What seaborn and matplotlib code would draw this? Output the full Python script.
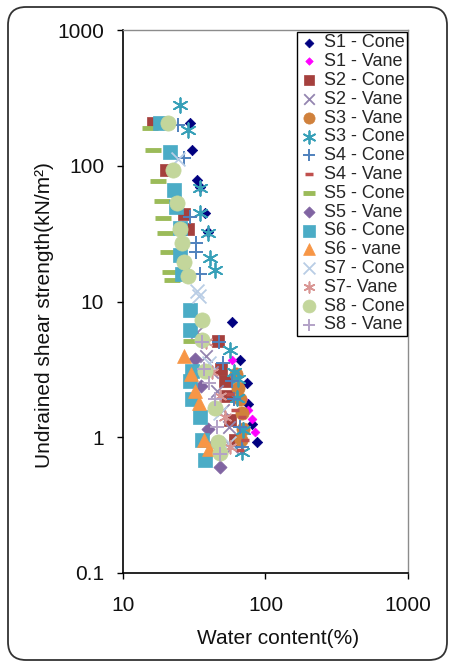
import numpy as np
import pandas as pd
import matplotlib
matplotlib.use("Agg")
import matplotlib.pyplot as plt
import seaborn as sns
from matplotlib.patches import FancyBboxPatch
from matplotlib.transforms import IdentityTransform
from matplotlib.ticker import FixedLocator, FixedFormatter, NullLocator

# ---------------- data (water content %, undrained shear strength kN/m2) ----------------
s1_cone_w = [29.5, 30.4, 33, 34.6, 37.5, 39.4, 58, 66, 74, 75, 80, 87]
s1_cone_su = [205, 131, 78, 70, 45, 32.5, 7.1, 3.7, 2.5, 1.75, 1.25, 0.92]

s1_vane_w = [58, 69, 75, 81, 85]
s1_vane_su = [3.7, 1.9, 1.6, 1.37, 1.1]

s2_cone_w = [16.3, 20, 27, 28.5, 46.6, 49, 52, 54, 56, 61]
s2_cone_su = [206, 93, 44, 34, 5.1, 3.2, 2.6, 2.0, 1.34, 0.95]

s2_vane_w = [33, 38, 42, 46, 50, 55, 58]
s2_vane_su = [6.0, 4.0, 3.0, 2.2, 1.6, 1.2, 0.85]

s3_vane_w = [62, 64, 66, 68, 70, 67]
s3_vane_su = [2.9, 2.3, 1.9, 1.5, 1.15, 0.95]

s3_cone_w = [25, 28.5, 34.7, 34.7, 39.4, 40.7, 44, 56, 60, 64, 63, 69, 68]
s3_cone_su = [280, 183, 69, 45, 32, 21, 17, 4.4, 3.0, 2.7, 1.95, 1.13, 0.78]

s4_cone_w = [24.5, 27, 29.5, 32.5, 32.5, 34.7, 47, 50, 58, 60, 66, 68]
s4_cone_su = [200, 115, 42, 27, 23, 16, 5.0, 3.5, 2.6, 1.9, 1.2, 0.85]

s4_vane_w = [56, 61, 68, 72, 66]
s4_vane_su = [2.1, 1.6, 1.4, 0.95, 0.8]

s5_cone_w = [15.5, 16.3, 17.6, 18.9, 19.1, 19.7, 20.7, 21.3, 22, 30]
s5_cone_su = [190, 131, 77, 55, 41, 32, 23, 16.5, 14.4, 5.1]

s5_vane_w = [32, 35, 39.5, 44, 48]
s5_vane_su = [3.8, 2.4, 1.15, 0.9, 0.6]

s6_cone_w = [18.2, 21.3, 22.8, 23.5, 25, 25, 25.8, 29.5, 29.5, 29.5, 30.5, 30.5, 34.7, 36, 37.6]
s6_cone_su = [206, 127, 66, 50, 35, 22, 16, 8.6, 6.2, 2.6, 3.1, 1.9, 1.4, 0.95, 0.68]

s6_vane_w = [27, 30, 32, 34, 37, 40]
s6_vane_su = [4.0, 2.9, 2.2, 1.8, 0.95, 0.82]

s7_cone_w = [24.5, 33, 34, 40, 48, 55]
s7_cone_su = [112, 12, 11, 3.5, 1.5, 0.9]

s7_vane_w = [38, 42, 48, 52, 56]
s7_vane_su = [5.0, 3.0, 2.0, 1.4, 0.85]

s8_cone_w = [20.7, 22.4, 24, 25, 26, 27, 28.5, 36, 36, 37.6, 44, 46.5, 48]
s8_cone_su = [205, 93, 53, 34, 27, 19.5, 15.5, 7.3, 5.2, 3.1, 1.65, 0.92, 0.77]

s8_vane_w = [36, 37, 40, 44, 46, 48]
s8_vane_su = [5.0, 3.2, 2.5, 1.9, 1.2, 0.75]

series_labels = ["S1 - Cone", "S1 - Vane", "S2 - Cone", "S2 - Vane", "S3 - Vane",
                 "S3 - Cone", "S4 - Cone", "S4 - Vane", "S5 - Cone", "S5 - Vane",
                 "S6 - Cone", "S6 - vane", "S7 - Cone", "S7- Vane", "S8 - Cone",
                 "S8 - Vane"]
series_w = [s1_cone_w, s1_vane_w, s2_cone_w, s2_vane_w, s3_vane_w, s3_cone_w,
            s4_cone_w, s4_vane_w, s5_cone_w, s5_vane_w, s6_cone_w, s6_vane_w,
            s7_cone_w, s7_vane_w, s8_cone_w, s8_vane_w]
series_su = [s1_cone_su, s1_vane_su, s2_cone_su, s2_vane_su, s3_vane_su, s3_cone_su,
             s4_cone_su, s4_vane_su, s5_cone_su, s5_vane_su, s6_cone_su, s6_vane_su,
             s7_cone_su, s7_vane_su, s8_cone_su, s8_vane_su]

x_ticks = [10, 100, 1000]
x_tick_labels = ["10", "100", "1000"]
y_ticks = [0.1, 1, 10, 100, 1000]
y_tick_labels = ["0.1", "1", "10", "100", "1000"]

# ---------------- styles ----------------
asterisk = (6, 2, 0)
styles = [
    dict(marker="D", color="#000080", s=28, lw=0.5, filled=True),
    dict(marker="D", color="#FF00FF", s=20, lw=0.5, filled=True),
    dict(marker="s", color="#A5403D", s=80, lw=0.5, filled=True),
    dict(marker="x", color="#9485B0", s=80, lw=1.3, filled=False),
    dict(marker="o", color="#D0813C", s=90, lw=0.5, filled=True),
    dict(marker=asterisk, color="#37A0B8", s=110, lw=1.3, filled=False),
    dict(marker="+", color="#4F81BD", s=90, lw=1.4, filled=False),
    dict(marker="_", color="#C0504D", s=40, lw=2.5, filled=False),
    dict(marker="_", color="#9BBB59", s=120, lw=3.5, filled=False),
    dict(marker="D", color="#8064A2", s=45, lw=0.5, filled=True),
    dict(marker="s", color="#4BACC6", s=110, lw=0.5, filled=True),
    dict(marker="^", color="#F79646", s=100, lw=0.5, filled=True),
    dict(marker="x", color="#B9CDE5", s=100, lw=1.3, filled=False),
    dict(marker=asterisk, color="#D99694", s=80, lw=1.2, filled=False),
    dict(marker="o", color="#C3D69B", s=120, lw=0.5, filled=True),
    dict(marker="+", color="#B3A2C7", s=100, lw=1.4, filled=False),
]

sns.set_theme(style="white")
plt.rcParams["font.family"] = ["Liberation Sans", "DejaVu Sans"]

fig = plt.figure(figsize=(4.55, 6.65), dpi=100)
fig.patch.set_facecolor("white")
ax = fig.add_axes([123 / 455, 92 / 665, 285 / 455, 543 / 665])

for lab, w, su, st in zip(series_labels, series_w, series_su, styles):
    df = pd.DataFrame({"w": w, "su": su})
    kw = dict(marker=st["marker"], s=st["s"], linewidth=st["lw"], alpha=1.0)
    if st["filled"]:
        kw["edgecolor"] = st["color"]
    sns.scatterplot(data=df, x="w", y="su", color=st["color"], ax=ax,
                    label=lab, legend=False, zorder=3, **kw)

ax.set_xscale("log")
ax.set_yscale("log")
ax.set_xlim(10, 1000)
ax.set_ylim(0.1, 1000)
ax.xaxis.set_major_locator(FixedLocator(x_ticks))
ax.xaxis.set_major_formatter(FixedFormatter(x_tick_labels))
ax.yaxis.set_major_locator(FixedLocator(y_ticks))
ax.yaxis.set_major_formatter(FixedFormatter(y_tick_labels))
ax.xaxis.set_minor_locator(NullLocator())
ax.yaxis.set_minor_locator(NullLocator())
ax.tick_params(axis="both", which="major", direction="out", length=4.5, width=1.0,
               color="black", labelsize=15, labelcolor="#111111", pad=9,
               bottom=True, left=True, top=False, right=False)
ax.tick_params(axis="x", pad=12)

for side in ["left", "bottom"]:
    ax.spines[side].set_color("black")
    ax.spines[side].set_linewidth(1.2)
for side in ["top", "right"]:
    ax.spines[side].set_color("#8C8C8C")
    ax.spines[side].set_linewidth(1.0)
ax.set_facecolor("white")
ax.grid(False)

ax.set_xlabel("Water content(%)", fontsize=15, color="#111111")
ax.set_ylabel("Undrained shear strength(kN/m²)", fontsize=15, color="#111111")
ax.xaxis.set_label_coords((278 - 123) / 285, (573 - 638) / 543)
ax.xaxis.label.set_va("center")
ax.yaxis.set_label_coords((45 - 123) / 285, (573 - 315) / 543)
ax.yaxis.label.set_va("center")

leg = ax.legend(loc="upper right", bbox_to_anchor=(0.997, 0.997), borderaxespad=0,
                fontsize=13, frameon=True, fancybox=False, framealpha=1,
                edgecolor="black", borderpad=0.15, labelspacing=0.1,
                handlelength=1.0, handletextpad=0.3, markerscale=0.85,
                scatterpoints=1)
leg.get_frame().set_linewidth(1.0)
leg.set_zorder(5)

border = FancyBboxPatch((8, 5), 439, 653, boxstyle="round,pad=0,rounding_size=18",
                        transform=IdentityTransform(), facecolor="none",
                        edgecolor="#333333", linewidth=1.3, figure=fig)
fig.patches.append(border)

fig.savefig("out.png", dpi=100)
